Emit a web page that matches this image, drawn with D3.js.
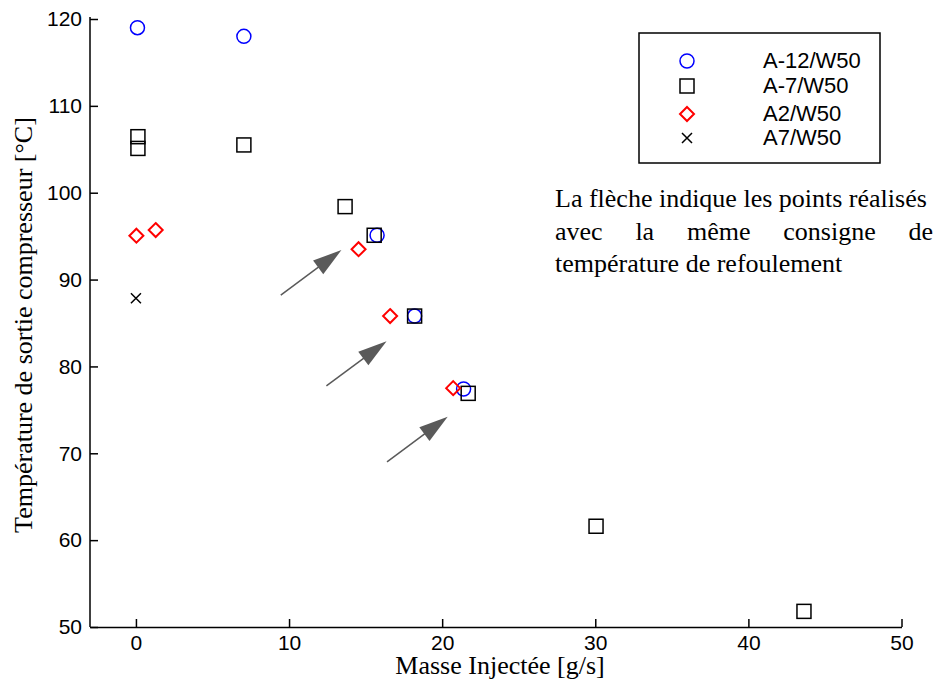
<!DOCTYPE html>
<html>
<head>
<meta charset="utf-8">
<script src="https://cdn.jsdelivr.net/npm/d3@7"></script>
<style>
  body { margin: 0; background: #fff; }
  .tick text { font-family: "Liberation Sans", Arial, sans-serif; font-size: 21px; fill: #000; }
  .axis path, .axis line { stroke: #000; stroke-width: 1.5; }
  .serif { font-family: "Liberation Serif", "Times New Roman", serif; font-size: 26px; fill: #000; }
  .legend text { font-family: "Liberation Sans", Arial, sans-serif; font-size: 22px; fill: #000; }
</style>
</head>
<body>
<svg width="934" height="683"></svg>
<script>
// A-12/W50
var a12X = [0.1, 7.05, 15.75, 18.2, 21.4];
var a12Y = [119.0, 118.0, 95.1, 85.8, 77.4];
// A-7/W50
var a7X = [0.13, 0.13, 7.05, 13.66, 15.56, 18.2, 21.7, 30.05, 43.63];
var a7Y = [106.45, 105.1, 105.5, 98.4, 95.1, 85.8, 76.9, 61.6, 51.8];
// A2/W50
var a2X = [0.03, 1.29, 14.54, 16.6, 20.72];
var a2Y = [95.05, 95.7, 93.5, 85.8, 77.5];
// A7/W50
var aP7X = [0.0];
var aP7Y = [87.85];

var xTicks = [0, 10, 20, 30, 40, 50];
var yTicks = [50, 60, 70, 80, 90, 100, 110, 120];

// arrows: tail -> tip, in data units
var arrowX0 = [9.46, 12.44, 16.4];
var arrowY0 = [88.2, 77.75, 69.0];
var arrowX1 = [13.42, 16.37, 20.36];
var arrowY1 = [93.4, 82.9, 74.2];

var legendLabels = ["A-12/W50", "A-7/W50", "A2/W50", "A7/W50"];
var noteLines = ["La flèche indique les points réalisés",
                 "avec la même consigne de",
                 "température de refoulement"];

function init() {
    var svg = d3.select("svg");

    var x = d3.scaleLinear().domain([-3, 50]).range([90, 901.5]),
        y = d3.scaleLinear().domain([50, 120]).range([627, 19]);

    var xAxis = d3.axisBottom(x).tickValues(xTicks).tickSizeInner(-8).tickSizeOuter(0).tickPadding(8),
        yAxis = d3.axisLeft(y).tickValues(yTicks).tickSizeInner(-8).tickSizeOuter(0).tickPadding(8);

    svg.append("g")
        .attr("class", "axis axis--x")
        .attr("transform", "translate(0,627)")
        .call(xAxis);

    svg.append("g")
        .attr("class", "axis axis--y")
        .attr("transform", "translate(90,0)")
        .call(yAxis);

    svg.select(".axis--y .domain").attr("d", "M0,627V17");

    // axis titles
    svg.append("text")
        .attr("class", "serif")
        .attr("x", 500)
        .attr("y", 674)
        .attr("text-anchor", "middle")
        .text("Masse Injectée [g/s]");

    svg.append("text")
        .attr("class", "serif")
        .attr("transform", "translate(32,325) rotate(-90)")
        .attr("text-anchor", "middle")
        .text("Température de sortie compresseur [°C]");

    // arrows
    var arrows = arrowX0.map(function(d, i) {
        return {x0: x(d), y0: y(arrowY0[i]), x1: x(arrowX1[i]), y1: y(arrowY1[i])};
    });
    var headLen = 29, headHalf = 8.5;
    var ag = svg.append("g").attr("class", "arrows");
    arrows.forEach(function(a) {
        var dx = a.x1 - a.x0, dy = a.y1 - a.y0,
            len = Math.sqrt(dx * dx + dy * dy),
            ux = dx / len, uy = dy / len,
            bx = a.x1 - ux * headLen, by = a.y1 - uy * headLen;
        ag.append("line")
            .attr("x1", a.x0).attr("y1", a.y0)
            .attr("x2", bx + ux * 2).attr("y2", by + uy * 2)
            .attr("stroke", "#5a5a5a")
            .attr("stroke-width", 1.5);
        ag.append("path")
            .attr("d", "M" + a.x1 + "," + a.y1 +
                "L" + (bx - uy * headHalf) + "," + (by + ux * headHalf) +
                "L" + (bx + uy * headHalf) + "," + (by - ux * headHalf) + "Z")
            .attr("fill", "#5a5a5a");
    });

    // marker shapes
    function drawMarker(g, kind) {
        if (kind === 0) {
            g.append("circle").attr("r", 7)
                .attr("fill", "none").attr("stroke", "#0000ff").attr("stroke-width", 1.5);
        } else if (kind === 1) {
            g.append("rect").attr("x", -7).attr("y", -7).attr("width", 14).attr("height", 14)
                .attr("fill", "none").attr("stroke", "#000").attr("stroke-width", 1.5);
        } else if (kind === 2) {
            g.append("path").attr("d", "M0,-7L7,0L0,7L-7,0Z")
                .attr("fill", "none").attr("stroke", "#ff0000").attr("stroke-width", 2);
        } else {
            g.append("path").attr("d", "M-5,-5L5,5M-5,5L5,-5")
                .attr("fill", "none").attr("stroke", "#000").attr("stroke-width", 1.5);
        }
    }

    var series = [[a12X, a12Y], [a7X, a7Y], [a2X, a2Y], [aP7X, aP7Y]];
    series.forEach(function(s, k) {
        var pts = s[0].map(function(d, i) { return {x: d, y: s[1][i]}; });
        svg.append("g").attr("class", "series s" + k)
            .selectAll("g")
            .data(pts)
            .enter().append("g")
                .attr("transform", function(d) { return "translate(" + x(d.x) + "," + y(d.y) + ")"; })
                .each(function() { drawMarker(d3.select(this), k); });
    });

    // legend
    var legend = svg.append("g").attr("class", "legend");
    legend.append("rect")
        .attr("x", 639).attr("y", 33).attr("width", 241).attr("height", 130)
        .attr("fill", "#fff").attr("stroke", "#000").attr("stroke-width", 1.5);
    var rowY = [68, 93, 121, 145];
    legendLabels.forEach(function(l, i) {
        drawMarker(legend.append("g").attr("transform", "translate(687," + (rowY[i] - 7) + ")"), i);
        legend.append("text").attr("x", 763).attr("y", rowY[i]).text(l);
    });

    // note, justified like the original
    var left = 555, right = 933, base = [207, 240, 272];
    noteLines.forEach(function(line, i) {
        if (i !== 1) {
            svg.append("text").attr("class", "serif")
                .attr("x", left).attr("y", base[i]).text(line);
            return;
        }
        var words = line.split(" ");
        var nodes = words.map(function(w) {
            return svg.append("text").attr("class", "serif").attr("y", base[i]).text(w);
        });
        var widths = nodes.map(function(n) { return n.node().getComputedTextLength(); });
        var gap = (right - left - d3.sum(widths)) / (words.length - 1);
        var cx = left;
        nodes.forEach(function(n, j) {
            n.attr("x", cx);
            cx += widths[j] + gap;
        });
    });
}
init();
</script>
</body>
</html>
